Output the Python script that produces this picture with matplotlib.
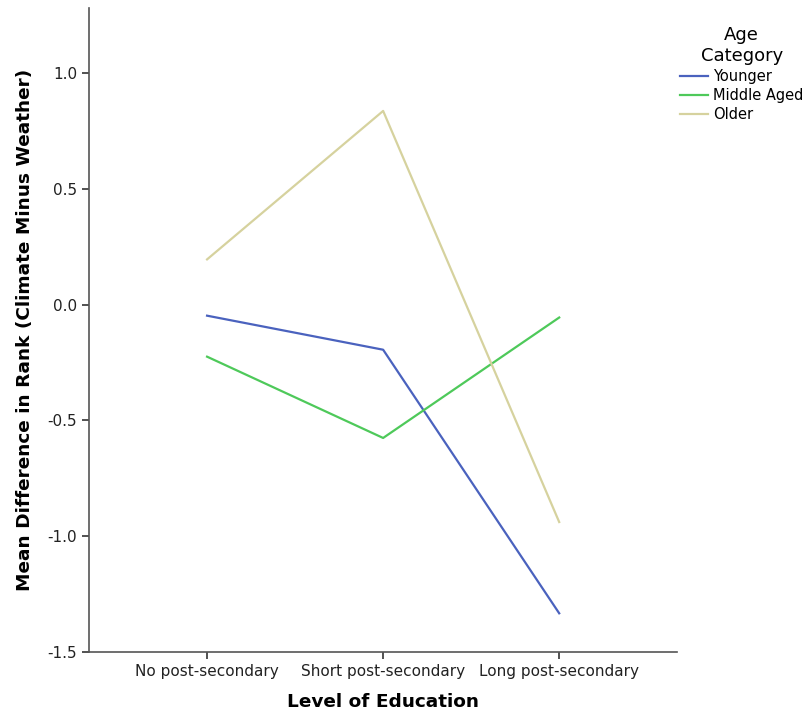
import matplotlib
matplotlib.use("Agg")
import matplotlib.pyplot as plt

categories = ["No post-secondary", "Short post-secondary", "Long post-secondary"]
series_names = ["Younger", "Middle Aged", "Older"]
younger = [-0.048, -0.195, -1.333]
middle_aged = [-0.225, -0.576, -0.056]
older = [0.195, 0.836, -0.939]
yticks = [-1.5, -1.0, -0.5, 0.0, 0.5, 1.0]
colors = ["#4a62be", "#4ec95a", "#d6d29e"]

plt.rcParams['font.family'] = ['DejaVu Sans']
fig = plt.figure(figsize=(8.1, 7.17), dpi=100)
ax = fig.add_axes([0.110, 0.0907, 0.726, 0.898])

x = list(range(len(categories)))
for vals, name, c in zip([younger, middle_aged, older], series_names, colors):
    ax.plot(x, vals, color=c, lw=1.6, label=name)

ax.set_xlim(-0.67, 2.67)
ax.set_ylim(-1.5, 1.28)
ax.set_xticks(x)
ax.set_xticklabels(categories, fontsize=11)
ax.set_yticks(yticks)
ax.set_yticklabels([f"{v:.1f}" for v in yticks], fontsize=11)
for s in ["top", "right"]:
    ax.spines[s].set_visible(False)
for s in ["left", "bottom"]:
    ax.spines[s].set_color("#555555")
    ax.spines[s].set_linewidth(1.2)
ax.tick_params(direction="out", length=5, width=1.2, color="#333333", labelcolor="#222222")
ax.set_xlabel("Level of Education", fontsize=13.3, fontweight="bold", labelpad=10)
ax.set_ylabel("Mean Difference in Rank (Climate Minus Weather)", fontsize=13.3,
              fontweight="bold", labelpad=10)

leg = ax.legend(title="Age\nCategory", loc="upper left", bbox_to_anchor=(0.995, 0.981),
                frameon=False, fontsize=10.5, title_fontsize=13, handlelength=1.9,
                handletextpad=0.35, labelspacing=0.28, borderaxespad=0)
leg._legend_box.align = "center"
leg.get_title().set_multialignment("center")

fig.savefig("out.png", dpi=100)
